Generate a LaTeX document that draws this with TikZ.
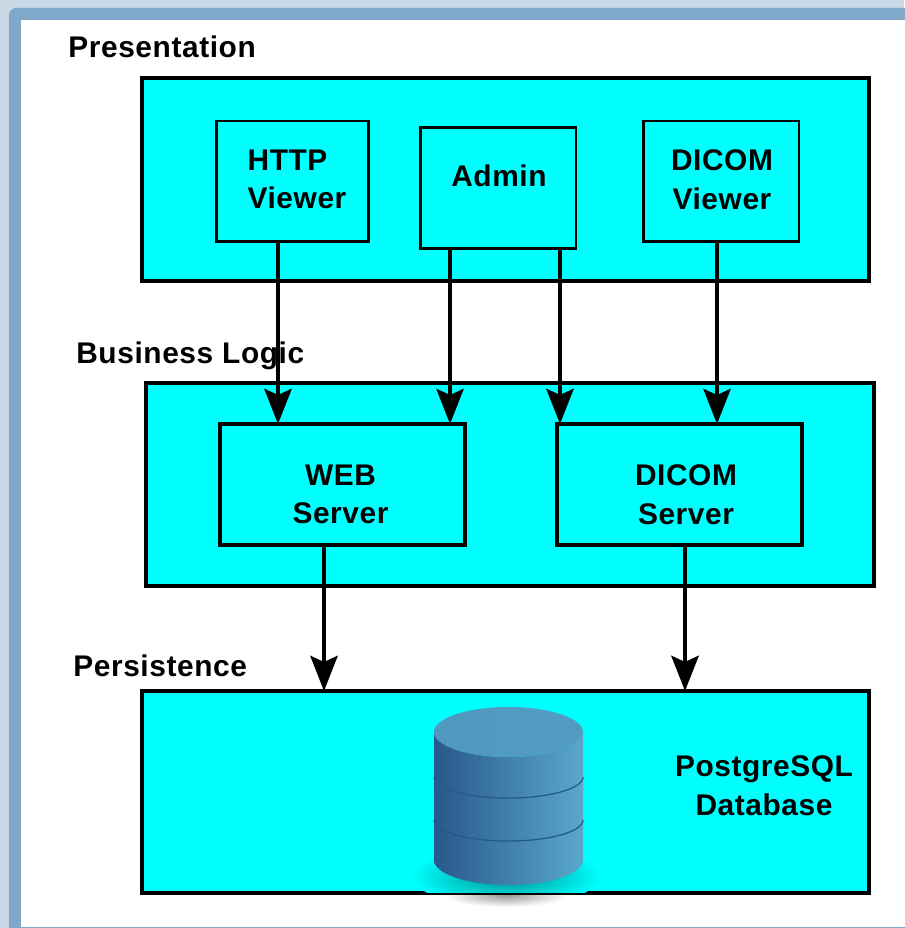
\documentclass[tikz,border=0pt]{standalone}
\usepackage{fontspec}
\setmainfont[LetterSpace=2]{Liberation Sans}
\usetikzlibrary{arrows.meta}
\definecolor{framebg}{HTML}{C8D8E5}
\definecolor{framefg}{HTML}{7FA8CB}
\definecolor{boxfill}{HTML}{00FFFF}
\definecolor{dbdark}{HTML}{28588A}
\definecolor{dblight}{HTML}{5AA8CC}
\definecolor{dbline}{HTML}{24588A}
\tikzset{
  tier/.style={draw, fill=boxfill, line width=2.3pt, anchor=north west, inner sep=0pt, outer sep=0pt},
  comp/.style={draw, fill=boxfill, line width=1.7pt, inner sep=0pt, outer sep=0pt},
  srv/.style={draw, fill=boxfill, line width=2.6pt, inner sep=0pt, outer sep=0pt, minimum width=4.9cm, minimum height=2.42cm},
  txt/.style={font=\fontsize{17}{22}\selectfont\bfseries, inner sep=0pt},
  flow/.style={-{Stealth[length=20pt, width=15.5pt, inset=3.5pt]}, line width=2.3pt},
}
\begin{document}
\begin{tikzpicture}[x=0.02cm, y=-0.02cm]
  \useasboundingbox (0, 0) rectangle (904, 928);

  % frame
  \fill[framebg] (0, 0) rectangle (904, 928);
  \fill[framefg, rounded corners=4pt] (9, 8) rectangle (920, 940);
  \fill[white] (21, 20) rectangle (912, 927);

  % shadow under the database, below the tier
  \shade[inner color=black!40, outer color=white]
    (506, 895) ellipse [x radius=62, y radius=12];

  % tiers
  \node[tier, minimum width=14.54cm, minimum height=4.06cm] (presentation) at (142, 78) {};
  \node[tier, minimum width=14.56cm, minimum height=4.06cm] (business) at (146, 383) {};
  \node[tier, minimum width=14.54cm, minimum height=4.04cm] (persistence) at (142, 691) {};

  % tier titles
  \node[txt, anchor=base west] (presentationtitle) at (68, 58) {Presentation};
  \node[txt, anchor=base west] (businesstitle) at (76, 364) {Business Logic};
  \node[txt, anchor=base west] (persistencetitle) at (73, 676) {Persistence};

  % presentation boxes
  \node[comp, minimum width=3.06cm, minimum height=2.42cm] (http) at (292.5, 181.5) {};
  \node[comp, minimum width=3.12cm, minimum height=2.42cm] (admin) at (498, 188) {};
  \node[comp, minimum width=3.12cm, minimum height=2.42cm] (dicomviewer) at (721, 181.5) {};
  \node[txt, align=left] (httplabel) at (297, 179.5) {HTTP\\Viewer};
  \node[txt] (adminlabel) at (499, 176) {Admin};
  \node[txt, align=center] (dicomviewerlabel) at (722, 179.5) {DICOM\\Viewer};

  % server boxes
  \node[srv] (web) at (342.5, 484.5) {};
  \node[srv] (dicomserver) at (679.5, 484.5) {};
  \node[txt, align=center] (weblabel) at (340.5, 494.5) {WEB\\Server};
  \node[txt, align=center] (dicomserverlabel) at (686, 494.5) {DICOM\\Server};

  % database
  \begin{scope}
    \clip (persistence.north west) rectangle (persistence.south east);
    \shade[inner color=teal!90!boxfill, outer color=boxfill]
      (506, 876) ellipse [x radius=95, y radius=30];
  \end{scope}
  \shade[left color=dbdark, right color=dblight]
    (434, 732) -- (434, 860) arc[start angle=180, end angle=0, x radius=74.5, y radius=25] -- (583, 732)
    arc[start angle=0, end angle=180, x radius=74.5, y radius=25] -- cycle;
  \shade[left color=dbdark!20!dblight, right color=dblight!85!dbdark]
    (508.5, 732) ellipse [x radius=74.5, y radius=25];
  \draw[line width=.7pt, dbline] (434, 777) arc[start angle=180, end angle=0, x radius=74.5, y radius=21];
  \draw[line width=.7pt, dbline] (434, 820) arc[start angle=180, end angle=0, x radius=74.5, y radius=21];
  \node[txt, align=center] (dblabel) at (764, 785.5) {PostgreSQL\\Database};

  % arrow ends
  \coordinate (httpout) at (278, 242);
  \coordinate (adminoutl) at (450, 249);
  \coordinate (adminoutr) at (560, 249);
  \coordinate (dicomviewerout) at (717, 243);
  \coordinate (webout) at (324, 545);
  \coordinate (dicomserverout) at (685, 545);

  \draw[flow, line width=2.6pt] (httpout) -- (httpout |- web.north);
  \draw[flow] (adminoutl) -- (adminoutl |- web.north);
  \draw[flow, line width=2.6pt] (adminoutr) -- (adminoutr |- dicomserver.north);
  \draw[flow] (dicomviewerout) -- (dicomviewerout |- dicomserver.north);
  \draw[flow] (webout) -- (webout |- persistence.north);
  \draw[flow, line width=2.6pt] (dicomserverout) -- (dicomserverout |- persistence.north);
\end{tikzpicture}
\end{document}
